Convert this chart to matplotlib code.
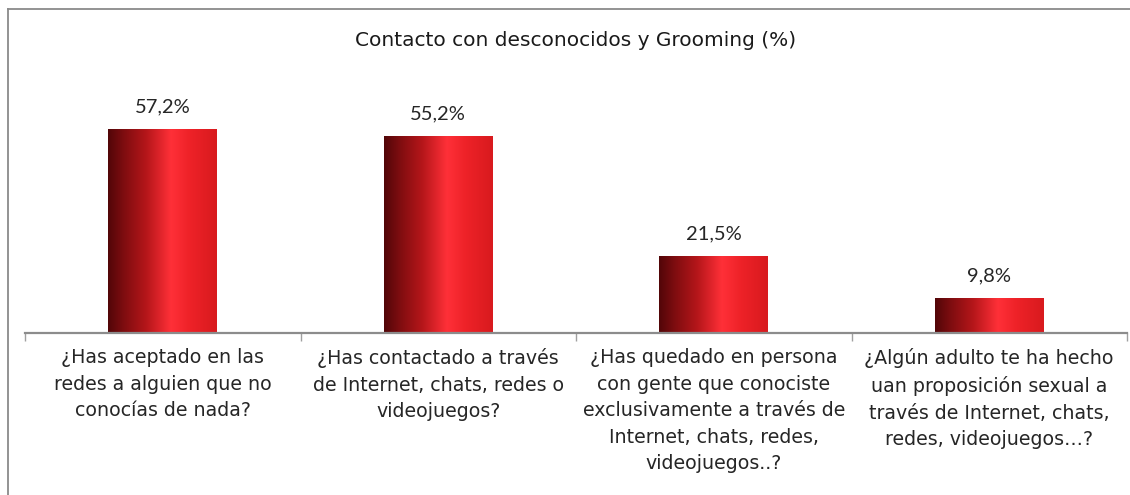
import numpy as np
import matplotlib
matplotlib.use('agg')
from matplotlib import pyplot as plt
from matplotlib.colors import LinearSegmentedColormap
from matplotlib.lines import Line2D

# ---------------------------------- data ----------------------------------
title = 'Contacto con desconocidos y Grooming (%)'
categories = ['¿Has aceptado en las\nredes a alguien que no\nconocías de nada?',
              '¿Has contactado a través\nde Internet, chats, redes o\nvideojuegos?',
              '¿Has quedado en persona\ncon gente que conociste\nexclusivamente a través de\nInternet, chats, redes,\nvideojuegos..?',
              '¿Algún adulto te ha hecho\nuan proposición sexual a\ntravés de Internet, chats,\nredes, videojuegos…?']
values = [57.2, 55.2, 21.5, 9.8]
value_labels = ['57,2%', '55,2%', '21,5%', '9,8%']

# ---------------------------------- figure ----------------------------------
W, H = 1130, 495
fig = plt.figure(figsize=(W / 100, H / 100), dpi=100)

# chart frame (only top and left edges visible in the crop)
fig.add_artist(Line2D([8 / W, 1.0], [1 - 9 / H, 1 - 9 / H], color='#8a8a8a', lw=1.3))
fig.add_artist(Line2D([8 / W, 8 / W], [0, 1 - 9 / H], color='#8a8a8a', lw=1.3))

ax_left = 25 / W
ax_right = 1127 / W
ax_bottom = 1 - 333 / H
ymax = 60
px_per_unit = 3.566
ax_height = ymax * px_per_unit / H
ax = fig.add_axes([ax_left, ax_bottom, ax_right - ax_left, ax_height])

x = np.arange(len(values))
bars = ax.bar(x, values, width=0.395, color='none', edgecolor='none')

# horizontal cylinder-like gradient
grad_cmap = LinearSegmentedColormap.from_list('redcyl', [
    (0.0, '#520608'),
    (0.15, '#800d10'),
    (0.35, '#b5161a'),
    (0.58, '#ff3038'),
    (0.75, '#ee2228'),
    (1.0, '#d81a1e')])
gradient = np.linspace(0, 1, 256).reshape(1, -1)
for b in bars:
    x0, y0 = b.get_x(), b.get_y()
    im = ax.imshow(gradient, cmap=grad_cmap, aspect='auto',
                   extent=[x0, x0 + b.get_width(), y0, y0 + b.get_height()],
                   zorder=2)
    im.set_clip_path(b)

for xi, v, lab in zip(x, values, value_labels):
    ax.annotate(lab, (xi, v), xytext=(0, 10), textcoords='offset points',
                ha='center', va='bottom', fontsize=14.5, color='#262626',
                family='Lato')

ax.set_xlim(-0.5, len(values) - 0.5)
ax.set_ylim(0, ymax)
for s in ['top', 'right', 'left']:
    ax.spines[s].set_visible(False)
ax.spines['bottom'].set_color('#8c8c8c')
ax.spines['bottom'].set_linewidth(1.6)
ax.set_yticks([])

# separators between categories
ax.set_xticks(np.arange(-0.5, len(values)), minor=True)
ax.tick_params(axis='x', which='minor', length=6, width=1, color='#a0a0a0',
               direction='out')
ax.set_xticks(x)
ax.set_xticklabels([])
ax.tick_params(axis='x', which='major', length=0)

for xi, cat in zip(x, categories):
    ax.annotate(cat, (xi, 0), xytext=(0, -11), textcoords='offset points',
                ha='center', va='top', fontsize=13.7, color='#262626',
                linespacing=1.5, family='DejaVu Sans', annotation_clip=False)

fig.text(576 / W, 1 - 41 / H, title, ha='center', va='center', fontsize=14.5,
         color='#1a1a1a', family='DejaVu Sans')

plt.savefig('out.png', dpi=100)
